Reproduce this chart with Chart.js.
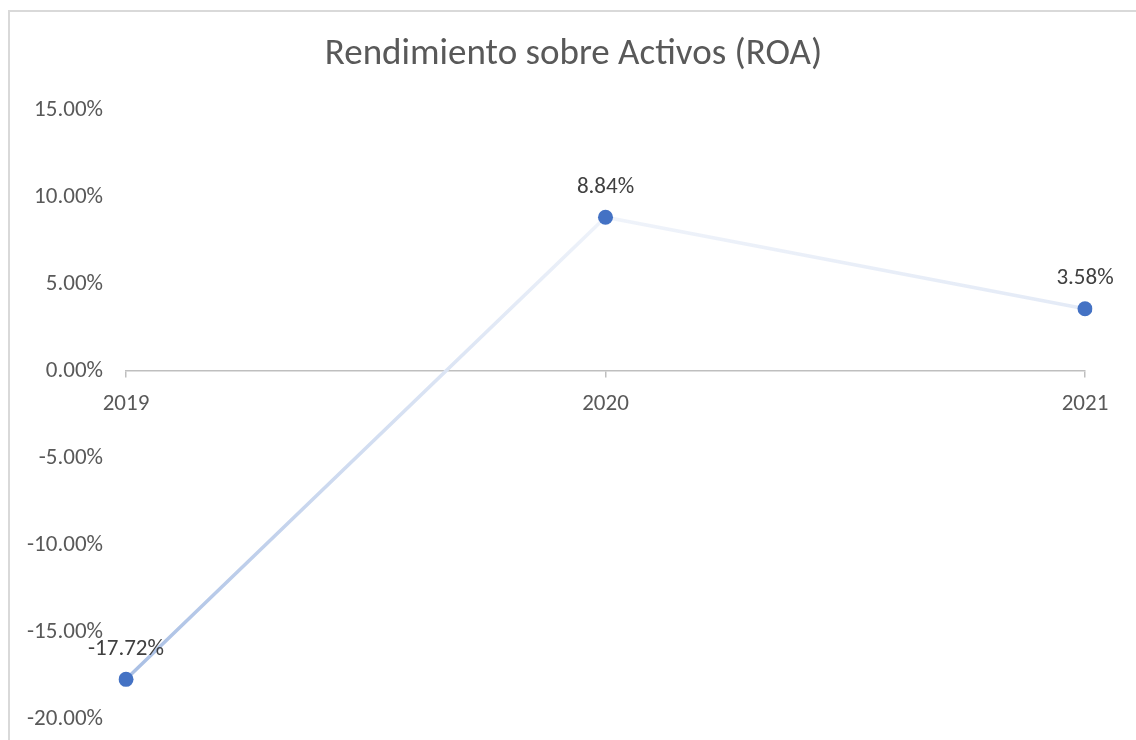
<!DOCTYPE html>
<html>
<head>
<meta charset="utf-8">
<script src="https://cdn.jsdelivr.net/npm/chart.js@4.4.1/dist/chart.umd.min.js"></script>
<style>
  html, body { margin: 0; padding: 0; background: #ffffff; overflow: hidden; }
  #frame { position: absolute; left: 8px; top: 10px; width: 1200px; height: 800px; border: 2px solid #d9d9d9; box-sizing: border-box; }
  #wrap { position: absolute; left: 0; top: 0; width: 1136px; height: 740px; }
</style>
</head>
<body>
<div id="frame"></div>
<div id="wrap"><canvas id="c" width="1136" height="740"></canvas></div>
<script>
const categories = ['2019', '2020', '2021'];
const roaValues = [-17.72, 8.84, 3.58];
const yTicks = [-20, -15, -10, -5, 0, 5, 10, 15];
const chartTitle = 'Rendimiento sobre Activos (ROA)';

const FONT = 'Carlito, Calibri, Lato, sans-serif';
const TEXT = '#595959';

const pointLabels = {
  id: 'pointLabels',
  afterLayout(chart) {
    // Excel centres the title on the whole chart frame, not the plot box
    if (chart.titleBlock) { chart.titleBlock.left += 42; }
  },
  afterDatasetsDraw(chart) {
    const ctx = chart.ctx;
    const meta = chart.getDatasetMeta(0);
    ctx.save();
    ctx.font = '23px ' + FONT;
    ctx.fillStyle = '#404040';
    ctx.textAlign = 'center';
    ctx.textBaseline = 'middle';
    meta.data.forEach((pt, i) => {
      ctx.fillText(roaValues[i].toFixed(2) + '%', pt.x, pt.y - 30);
    });
    ctx.restore();
  }
};

new Chart(document.getElementById('c'), {
  type: 'line',
  data: {
    labels: categories,
    datasets: [{
      data: roaValues,
      borderWidth: 3.5,
      borderColor(context) {
        const chart = context.chart;
        const area = chart.chartArea;
        if (!area) return '#b4c7e7';
        const y = chart.scales.y;
        const g = chart.ctx.createLinearGradient(0, y.getPixelForValue(-17.72), 0, y.getPixelForValue(8.84));
        g.addColorStop(0, '#a9bfe4');
        g.addColorStop(0.45, '#cfdbf0');
        g.addColorStop(1, '#eff3fa');
        return g;
      },
      pointRadius: 7.5,
      pointHoverRadius: 7.5,
      pointBackgroundColor: '#4472c4',
      pointBorderWidth: 0,
      tension: 0,
      fill: false
    }]
  },
  options: {
    responsive: false,
    animation: false,
    devicePixelRatio: 1,
    layout: { padding: { left: 20, right: 51, top: 33, bottom: 21 } },
    plugins: {
      legend: { display: false },
      tooltip: { enabled: false },
      title: {
        display: true,
        text: chartTitle,
        color: TEXT,
        font: { family: FONT, size: 37, weight: 'normal', lineHeight: 1.2 },
        padding: { top: 0, bottom: 32.6 }
      }
    },
    scales: {
      x: {
        type: 'category',
        position: { y: 0 },
        offset: false,
        afterFit(scale) { scale.height = 0; },
        grid: { display: true, drawOnChartArea: false, drawTicks: true, tickLength: 6, color: '#bfbfbf', lineWidth: 1.5 },
        border: { display: true, color: '#bfbfbf', width: 1.5 },
        ticks: { color: TEXT, font: { family: FONT, size: 23 }, padding: 13, maxRotation: 0 }
      },
      y: {
        min: -20,
        max: 15,
        afterBuildTicks(scale) { scale.ticks = yTicks.map(v => ({ value: v })); },
        afterFit(scale) { scale.width = 106; scale.paddingBottom = 0; },
        grid: { display: false },
        border: { display: false },
        ticks: {
          color: TEXT,
          font: { family: FONT, size: 23 },
          padding: 15,
          callback: v => v.toFixed(2) + '%'
        }
      }
    }
  },
  plugins: [pointLabels]
});
</script>
</body>
</html>
